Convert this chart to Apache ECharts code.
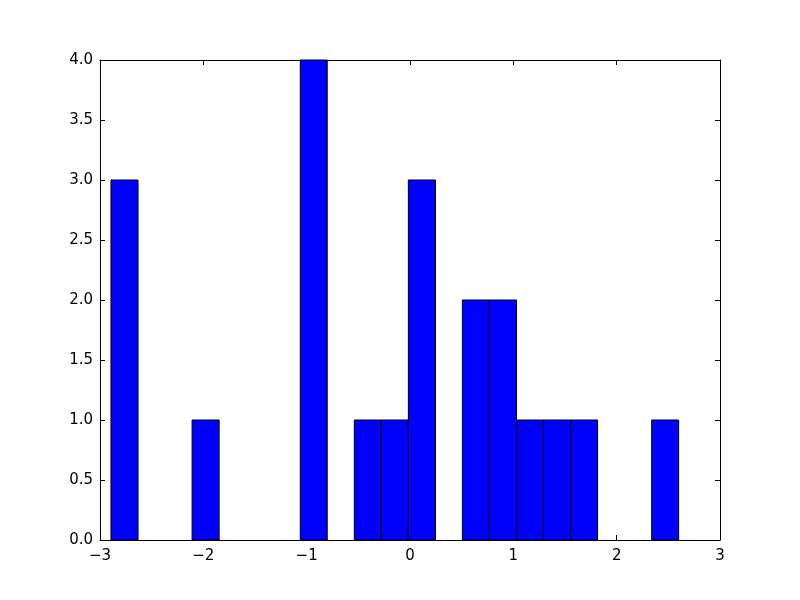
<!DOCTYPE html>
<html>
<head>
<meta charset="utf-8">
<script src="https://cdn.jsdelivr.net/npm/echarts@6/dist/echarts.min.js"></script>
<style>html,body{margin:0;padding:0;background:#fff;}#c{width:800px;height:600px;}</style>
</head>
<body>
<div id="c"></div>
<script>
var binEdges = [-2.894, -2.632, -2.370, -2.109, -1.847, -1.586, -1.324, -1.062, -0.801, -0.539, -0.278, -0.016, 0.246, 0.507, 0.769, 1.031, 1.292, 1.554, 1.815, 2.077, 2.339, 2.600];
var counts = [3, 0, 0, 1, 0, 0, 0, 4, 0, 1, 1, 3, 0, 2, 2, 1, 1, 1, 0, 0, 1];
var xTicks = [-3, -2, -1, 0, 1, 2, 3];
var yTicks = [0, 0.5, 1, 1.5, 2, 2.5, 3, 3.5, 4];

var data = [];
for (var i = 0; i < counts.length; i++) {
  if (counts[i] > 0) data.push([binEdges[i], binEdges[i + 1], counts[i]]);
}
function fmtX(v) { return v < 0 ? '\u2212' + Math.abs(v) : String(v); }
function fmtY(v) { return v.toFixed(1); }

var font = { fontFamily: 'DejaVu Sans', fontSize: 15, color: '#000' };
var chart = echarts.init(document.getElementById('c'), null, { renderer: 'canvas' });
var tickStyle = { show: true, inside: true, length: 5, lineStyle: { color: '#000', width: 1 } };
var lineStyle = { show: true, onZero: false, lineStyle: { color: '#000', width: 1 } };
chart.setOption({
  animation: false,
  backgroundColor: '#fff',
  grid: { left: 100, right: 80, top: 60, bottom: 60, containLabel: false },
  xAxis: [
    { type: 'value', min: xTicks[0], max: xTicks[xTicks.length - 1], interval: 1,
      axisLine: lineStyle, axisTick: tickStyle, splitLine: { show: false },
      axisLabel: Object.assign({ margin: 9, formatter: fmtX }, font) },
    { type: 'value', position: 'top', min: xTicks[0], max: xTicks[xTicks.length - 1], interval: 1,
      axisLine: lineStyle, axisTick: tickStyle, splitLine: { show: false }, axisLabel: { show: false } }
  ],
  yAxis: [
    { type: 'value', min: yTicks[0], max: yTicks[yTicks.length - 1], interval: 0.5,
      axisLine: lineStyle, axisTick: tickStyle, splitLine: { show: false },
      axisLabel: Object.assign({ margin: 7, formatter: fmtY }, font) },
    { type: 'value', position: 'right', min: yTicks[0], max: yTicks[yTicks.length - 1], interval: 0.5,
      axisLine: lineStyle, axisTick: tickStyle, splitLine: { show: false }, axisLabel: { show: false } }
  ],
  series: [{
    type: 'custom',
    xAxisIndex: 0, yAxisIndex: 0,
    data: data,
    renderItem: function (params, api) {
      var p0 = api.coord([api.value(0), 0]);
      var p1 = api.coord([api.value(1), api.value(2)]);
      return {
        type: 'rect',
        shape: { x: p0[0], y: p1[1], width: p1[0] - p0[0], height: p0[1] - p1[1] },
        style: { fill: '#0000ff', stroke: '#000', lineWidth: 1 }
      };
    }
  }]
});
</script>
</body>
</html>
